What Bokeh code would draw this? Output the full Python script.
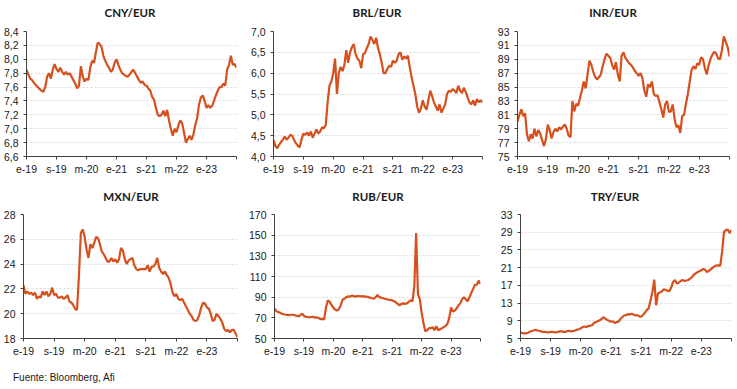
from bokeh.plotting import figure
from bokeh.layouts import column, row
from bokeh.models import Range1d, FixedTicker, Div
from bokeh.embed import file_html
from bokeh.resources import INLINE

# time grid: months since January 2019, semi-monthly observations
months = [i / 2 for i in range(113)]

x_ticks = [0, 8, 16, 24, 32, 40, 48, 56]
x_tick_labels = ["e-19", "s-19", "m-20", "e-21", "s-21", "m-22", "e-23", ""]

cny = [7.85, 7.78, 7.72, 7.70, 7.66, 7.63, 7.60, 7.57, 7.55, 7.53, 7.60, 7.75, 7.80, 7.72, 7.85, 7.93,
       7.86, 7.82, 7.88, 7.82, 7.78, 7.82, 7.78, 7.80, 7.75, 7.70, 7.65, 7.58, 7.62, 7.90, 7.75, 7.68,
       7.72, 7.70, 7.88, 7.98, 7.95, 8.10, 8.24, 8.22, 8.18, 8.05, 7.98, 7.92, 7.88, 7.82, 7.85, 7.95,
       8.00, 7.92, 7.85, 7.80, 7.78, 7.76, 7.75, 7.78, 7.82, 7.85, 7.80, 7.75, 7.70, 7.66, 7.68, 7.63,
       7.62, 7.58, 7.55, 7.46, 7.42, 7.30, 7.20, 7.18, 7.20, 7.26, 7.18, 7.27, 7.12, 7.00, 6.90, 7.00,
       6.95, 7.05, 7.12, 7.08, 6.95, 6.80, 6.85, 6.90, 6.84, 6.92, 7.05, 7.15, 7.35, 7.45, 7.48, 7.40,
       7.30, 7.34, 7.30, 7.33, 7.40, 7.48, 7.55, 7.60, 7.60, 7.65, 7.62, 7.85, 7.92, 8.05, 7.92, 7.93,
       7.88]

brl = [4.40, 4.25, 4.20, 4.28, 4.35, 4.40, 4.48, 4.40, 4.45, 4.52, 4.50, 4.40, 4.32, 4.26, 4.22, 4.40,
       4.55, 4.52, 4.58, 4.50, 4.60, 4.45, 4.55, 4.65, 4.55, 4.60, 4.70, 4.68, 4.75, 5.30, 5.70, 5.80,
       6.00, 6.35, 5.50, 6.00, 6.15, 6.05, 6.20, 6.55, 6.25, 6.50, 6.62, 6.70, 6.45, 6.35, 6.30, 6.12,
       6.45, 6.48, 6.60, 6.70, 6.88, 6.80, 6.70, 6.85, 6.60, 6.45, 6.25, 6.00, 6.00, 6.10, 6.18, 6.15,
       6.30, 6.25, 6.30, 6.45, 6.50, 6.32, 6.40, 6.35, 6.42, 6.15, 5.90, 5.70, 5.50, 5.20, 5.05, 5.15,
       5.35, 5.20, 5.12, 5.35, 5.58, 5.45, 5.30, 5.20, 5.10, 5.25, 5.05, 5.15, 5.25, 5.50, 5.58, 5.55,
       5.62, 5.58, 5.52, 5.70, 5.58, 5.52, 5.65, 5.55, 5.42, 5.30, 5.25, 5.35, 5.22, 5.38, 5.30, 5.35,
       5.30]

inr = [80.0, 81.0, 81.8, 80.8, 81.2, 78.2, 77.2, 78.2, 77.6, 79.0, 77.9, 78.8, 78.3, 77.4, 76.5, 77.5,
       79.6, 78.8, 77.6, 78.5, 79.0, 78.6, 79.2, 78.9, 79.3, 79.6, 79.0, 78.0, 77.8, 83.0, 81.5, 82.6,
       82.3, 83.4, 84.5, 85.8, 84.8, 86.8, 88.8, 88.2, 87.2, 86.5, 86.1, 86.4, 86.8, 88.0, 89.0, 89.8,
       89.5, 89.2, 88.2, 87.5, 88.6, 86.8, 85.8, 89.5, 90.0, 89.2, 88.8, 88.4, 88.2, 87.8, 87.3, 87.0,
       86.6, 87.0, 86.3, 84.5, 83.6, 85.4, 85.0, 85.8, 84.0, 83.7, 83.8, 82.8, 81.8, 80.6, 82.5, 83.0,
       81.4, 81.5, 82.5, 80.4, 79.2, 79.5, 78.4, 80.8, 81.0, 82.6, 84.0, 85.8, 87.5, 88.0, 87.6, 88.4,
       88.2, 89.3, 89.0, 87.7, 86.8, 88.2, 89.1, 89.7, 90.1, 89.8, 89.1, 89.0, 90.3, 92.3, 91.5, 90.8,
       89.4]

mxn = [22.3, 21.6, 21.8, 21.6, 21.7, 21.5, 21.7, 21.2, 21.4, 21.3, 21.8, 21.5, 21.8, 21.4, 21.6, 22.1,
       21.5, 21.6, 21.3, 21.3, 21.4, 21.2, 21.3, 21.5, 21.0, 20.9, 20.7, 20.4, 20.3, 23.0, 26.5, 26.8,
       26.2, 25.2, 24.5, 25.6, 25.3, 25.7, 26.2, 26.1, 25.6, 25.0, 24.8, 24.5, 24.2, 24.2, 24.5, 24.2,
       24.4, 24.1, 24.4, 25.3, 25.1, 24.4, 24.0, 24.3, 24.4, 24.5, 23.9, 23.6, 23.5, 23.6, 23.6, 23.6,
       23.6, 23.9, 23.4, 23.8, 23.8, 24.0, 24.5, 23.7, 23.4, 23.2, 23.4, 23.1, 22.9, 22.4, 21.7, 21.4,
       21.6, 21.2, 21.1, 21.2, 20.9, 20.6, 20.3, 20.0, 19.8, 19.5, 19.4, 19.5, 19.9, 20.5, 20.9, 20.8,
       20.5, 20.4, 20.0, 19.4, 19.5, 20.0, 19.8, 19.6, 19.3, 18.8, 18.6, 18.7, 18.5, 18.7, 18.7, 18.4,
       18.1]

rub = [79, 76.5, 75.5, 75, 74, 73.5, 73, 72.8, 72.5, 73, 73, 72.5, 72, 71.5, 72.5, 74,
       72, 71, 70.8, 70.5, 70.8, 71, 70.2, 70.5, 69.8, 68.8, 69, 68.5, 80, 87, 85.5, 82.5,
       80, 77.8, 77, 78.5, 82, 87.5, 88.5, 90, 90.8, 90.5, 91.5, 91, 90.5, 91, 91, 90.8,
       91, 90.5, 90.5, 90, 89.5, 89, 88.5, 90, 92, 90, 89.5, 89, 88.5, 88, 87.5, 87.3,
       87, 86, 85, 83.5, 82, 83.5, 84, 83.5, 84, 85.5, 87, 86, 100, 152, 93, 88,
       75, 65, 57, 58, 60, 60, 61, 58, 62, 58, 59, 60, 61, 62, 64, 70,
       80, 76, 77, 79, 82, 84, 88, 90, 88, 86, 90, 94, 98, 102, 102, 106,
       103]

try_ = [6.4, 6.2, 6.1, 6.2, 6.3, 6.5, 6.7, 6.8, 7.0, 6.8, 6.7, 6.6, 6.5, 6.5, 6.4, 6.4,
        6.5, 6.5, 6.4, 6.4, 6.5, 6.6, 6.6, 6.5, 6.5, 6.7, 6.7, 6.6, 6.7, 6.8, 7.0, 7.1,
        7.3, 7.6, 7.7, 7.6, 7.8, 7.9, 8.0, 8.5, 8.7, 8.9, 9.1, 9.4, 9.8, 9.5, 9.2, 9.0,
        8.8, 8.9, 8.5, 8.7, 8.8, 9.4, 9.8, 10.2, 10.3, 10.5, 10.4, 10.6, 10.4, 10.2, 10.3, 10.0,
        9.9, 10.3, 10.8, 11.4, 11.8, 13.5, 15.5, 18.3, 12.5, 15.2, 15.4, 15.6, 16.1, 16.0, 15.8, 15.7,
        16.5, 17.8, 18.2, 17.4, 17.6, 18.0, 18.2, 18.0, 18.1, 18.2, 18.5, 18.9, 19.4, 19.7, 20.0, 20.2,
        20.4, 20.7, 20.5, 20.0, 20.3, 20.6, 21.0, 21.3, 21.5, 21.5, 21.4, 24.5, 29.0, 29.5, 29.6, 28.8,
        29.5]

titles = ["CNY/EUR", "BRL/EUR", "INR/EUR", "MXN/EUR", "RUB/EUR", "TRY/EUR"]
y_ticks = [
    [6.6, 6.8, 7.0, 7.2, 7.4, 7.6, 7.8, 8.0, 8.2, 8.4],
    [4.0, 4.5, 5.0, 5.5, 6.0, 6.5, 7.0],
    [75, 77, 79, 81, 83, 85, 87, 89, 91, 93],
    [18, 20, 22, 24, 26, 28],
    [50, 70, 90, 110, 130, 150, 170],
    [5, 9, 13, 17, 21, 25, 29, 33],
]
y_tick_labels = [
    ["6,6", "6,8", "7,0", "7,2", "7,4", "7,6", "7,8", "8,0", "8,2", "8,4"],
    ["4,0", "4,5", "5,0", "5,5", "6,0", "6,5", "7,0"],
    ["75", "77", "79", "81", "83", "85", "87", "89", "91", "93"],
    ["18", "20", "22", "24", "26", "28"],
    ["50", "70", "90", "110", "130", "150", "170"],
    ["5", "9", "13", "17", "21", "25", "29", "33"],
]
series = [cny, brl, inr, mxn, rub, try_]
source_note = "Fuente: Bloomberg, Afi"

LINE = "#D6501D"
TICK_FONT = "Liberation Sans"
W = 245

# (height, border_left, border_right, border_top, border_bottom)
geom = [
    (159, 25, 9, 7, 27),
    (159, 28, 8, 7, 27),
    (159, 27, 6, 7, 27),
    (153, 23, 8, 7, 22),
    (153, 28, 10, 7, 22),
    (153, 30, 4, 7, 22),
]
# title div: (line height, text indent) per panel
title_pos = [(26, 15), (26, 19), (26, 1), (28, 17), (28, 21), (28, 5)]


def make_title(i):
    lh, indent = title_pos[i]
    return Div(text=titles[i], width=W, height=24, margin=(0, 0, 0, 0),
               styles={"text-align": "center", "text-indent": f"{indent}px",
                       "line-height": f"{lh}px", "font-family": "Lato", "font-weight": "bold",
                       "font-size": "11.5px", "color": "#1a1a1a", "white-space": "nowrap"})


figs = []
for i in range(6):
    h, bl, br, bt, bb = geom[i]
    yt = y_ticks[i]
    p = figure(width=W, height=h, output_backend="svg", toolbar_location=None,
               x_range=Range1d(0, 56), y_range=Range1d(yt[0], yt[-1]),
               min_border_left=bl, min_border_right=br, min_border_top=bt, min_border_bottom=bb,
               background_fill_color="white", border_fill_color="white", margin=(0, 0, 0, 0))
    p.outline_line_color = None

    p.line(months, series[i], line_color=LINE, line_width=2.2)

    p.xgrid.grid_line_color = None
    p.ygrid.grid_line_color = "#DADADA"
    p.ygrid.grid_line_dash = "2 2"
    p.ygrid.grid_line_width = 1

    p.xaxis.ticker = FixedTicker(ticks=x_ticks)
    p.xaxis.major_label_overrides = dict(zip(x_ticks, x_tick_labels))
    p.yaxis.ticker = FixedTicker(ticks=yt)
    p.yaxis.major_label_overrides = dict(zip(yt, y_tick_labels[i]))
    for ax in (p.xaxis, p.yaxis):
        ax.axis_line_color = "#404040"
        ax.major_tick_line_color = "#404040"
        ax.major_tick_out = 3
        ax.major_tick_in = 0
        ax.minor_tick_line_color = None
        ax.major_label_text_font = TICK_FONT
        ax.major_label_text_font_size = "10.5px"
        ax.major_label_text_color = "#1a1a1a"
    p.xaxis.major_label_standoff = 3
    p.yaxis.major_label_standoff = 5
    figs.append(p)

footer = Div(text=source_note, width=3 * W, height=26, margin=(0, 0, 0, 0),
             styles={"padding-left": "13px", "padding-top": "12px", "line-height": "12px",
                     "font-family": TICK_FONT, "font-size": "10px", "color": "#1a1a1a",
                     "white-space": "nowrap", "box-sizing": "border-box"})

layout = column(
    row(*[make_title(i) for i in range(3)]),
    row(*figs[:3]),
    row(*[make_title(i) for i in range(3, 6)]),
    row(*figs[3:]),
    footer,
)
open("out.html", "w").write(file_html(layout, INLINE))
